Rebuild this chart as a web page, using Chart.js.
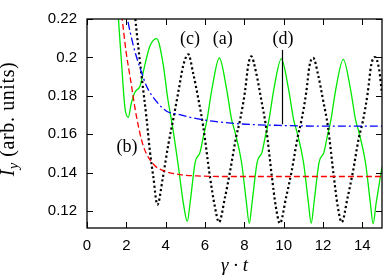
<!DOCTYPE html>
<html>
<head>
<meta charset="utf-8">
<script src="https://cdn.jsdelivr.net/npm/chart.js@4.4.0/dist/chart.umd.min.js"></script>
<style>
  html, body { margin: 0; padding: 0; background: #fff; }
  #wrap { width: 383px; height: 275px; }
</style>
</head>
<body>
<div id="wrap"><canvas id="chart"></canvas></div>
<script>
const X_TICKS = [0, 2, 4, 6, 8, 10, 12, 14];
const Y_TICKS = [0.12, 0.14, 0.16, 0.18, 0.2, 0.22];
const Y_TICK_LABELS = ['0.12', '0.14', '0.16', '0.18', '0.2', '0.22'];

// (a) green solid
const aT = [1.45, 1.59, 1.75, 1.93, 2.1, 2.25, 2.44, 2.69, 2.95, 3.2, 3.54, 3.88, 4.1, 4.35, 4.65, 4.9, 5.1,
            5.25, 5.5, 5.75, 5.9, 6.1, 6.35, 6.73, 7.1, 7.36, 7.52, 7.86, 8.1, 8.25,
            8.4, 8.65, 8.9, 9.05, 9.25, 9.5, 9.88, 10.25, 10.51, 10.67, 11.01, 11.25, 11.4,
            11.55, 11.8, 12.05, 12.2, 12.4, 12.65, 13.03, 13.4, 13.66, 13.82, 14.16, 14.4, 14.55,
            14.7, 14.95, 15.0];
const aI = [0.25, 0.222, 0.198, 0.1737, 0.1688, 0.176, 0.182, 0.185, 0.1964, 0.206, 0.2098, 0.196, 0.179, 0.164, 0.143, 0.124, 0.1146,
            0.125, 0.1454, 0.1507, 0.158, 0.1673, 0.1834, 0.1997, 0.1834, 0.1673, 0.1614, 0.1453, 0.125, 0.1136,
            0.125, 0.1454, 0.1507, 0.158, 0.1673, 0.1834, 0.1992, 0.1834, 0.1673, 0.1614, 0.1453, 0.125, 0.1136,
            0.125, 0.1454, 0.1507, 0.158, 0.1673, 0.1834, 0.199, 0.1834, 0.1673, 0.1614, 0.1453, 0.125, 0.1134,
            0.124, 0.14, 0.143];

// (b) red dashed
const bT = [1.55, 1.76, 2.0, 2.19, 2.52, 2.86, 3.37, 4.05, 4.73, 5.6, 7.0, 10.0, 15.0];
const bI = [0.236, 0.222, 0.202, 0.19, 0.169, 0.154, 0.1445, 0.1405, 0.139, 0.1383, 0.138, 0.138, 0.138];

// (c) black dotted
const cT = [2.25, 2.44, 2.78, 3.03, 3.2, 3.37, 3.58, 3.85, 4.14, 4.39, 4.64, 4.9, 5.15,
            5.4, 5.66, 5.91, 6.25, 6.5, 6.71, 7.02, 7.27, 7.57, 7.78, 8.03, 8.2, 8.35,
            8.6, 8.85, 9.1, 9.4, 9.6, 9.81, 10.12, 10.4, 10.7, 10.9, 11.15, 11.32, 11.5,
            11.75, 12.0, 12.25, 12.55, 12.75, 12.95, 13.25, 13.52, 13.82, 14.03, 14.28, 14.45, 14.64,
            14.85, 15.0];
const cI = [0.245, 0.222, 0.19, 0.168, 0.151, 0.138, 0.1233, 0.137, 0.155, 0.168, 0.1818, 0.196, 0.2016,
            0.1917, 0.1785, 0.164, 0.138, 0.1224, 0.1142, 0.1273, 0.1404, 0.158, 0.1673, 0.182, 0.196, 0.2005,
            0.192, 0.1785, 0.164, 0.138, 0.1224, 0.1136, 0.127, 0.1404, 0.158, 0.167, 0.182, 0.196, 0.1998,
            0.191, 0.178, 0.164, 0.138, 0.1224, 0.1142, 0.127, 0.1404, 0.158, 0.167, 0.182, 0.196, 0.2002,
            0.194, 0.181];

// (d) blue dash-dot
const dT = [1.85, 2.02, 2.36, 2.69, 3.03, 3.54, 4.05, 4.73, 5.24, 6.4, 7.8, 9.8, 12.3, 15.0];
const dI = [0.235, 0.2224, 0.206, 0.1948, 0.185, 0.177, 0.172, 0.1702, 0.1688, 0.1668, 0.1654, 0.1646, 0.1642, 0.1642];

// marker line for (d)
const markT = [9.93, 9.93];
const markI = [0.2039, 0.1652];

// curve labels
const LABELS = ['(a)', '(b)', '(c)', '(d)'];
const labelT = [6.9, 2.03, 5.24, 9.96];
const labelI = [0.2095, 0.1531, 0.2095, 0.2095];

const pts = (t, v) => t.map((x, i) => ({ x: x, y: v[i] }));

const frame = {
  id: 'frame',
  afterDraw(chart) {
    const { ctx, chartArea: a, scales } = chart;
    ctx.save();
    ctx.strokeStyle = '#000';
    ctx.lineWidth = 1.3;
    ctx.strokeRect(a.left, a.top, a.right - a.left, a.bottom - a.top);
    ctx.lineWidth = 1;
    ctx.beginPath();
    X_TICKS.forEach(v => {
      const px = Math.round(scales.x.getPixelForValue(v)) + 0.5;
      ctx.moveTo(px, a.bottom); ctx.lineTo(px, a.bottom - 6);
      ctx.moveTo(px, a.top); ctx.lineTo(px, a.top + 6);
    });
    Y_TICKS.forEach(v => {
      const py = Math.round(scales.y.getPixelForValue(v)) + 0.5;
      ctx.moveTo(a.left, py); ctx.lineTo(a.left + 6, py);
      ctx.moveTo(a.right, py); ctx.lineTo(a.right - 6, py);
    });
    ctx.stroke();

    // marker line for (d), straight
    const mx = Math.round(scales.x.getPixelForValue(markT[0])) + 0.5;
    ctx.lineWidth = 1.2;
    ctx.beginPath();
    ctx.moveTo(mx, scales.y.getPixelForValue(markI[0]));
    ctx.lineTo(mx, scales.y.getPixelForValue(markI[1]));
    ctx.stroke();

    // curve labels
    ctx.fillStyle = '#000';
    ctx.font = '18px "Liberation Serif"';
    ctx.textAlign = 'center';
    ctx.textBaseline = 'middle';
    LABELS.forEach((s, i) => {
      ctx.fillText(s, scales.x.getPixelForValue(labelT[i]), scales.y.getPixelForValue(labelI[i]));
    });

    // y axis title with subscript
    ctx.translate(14, 119);
    ctx.rotate(-Math.PI / 2);
    ctx.textAlign = 'left';
    ctx.textBaseline = 'alphabetic';
    const parts = [
      ['I', 'italic 20px "Liberation Serif"', 0],
      ['y', 'italic 14px "Liberation Serif"', 4],
      [' (arb. units)', '20px "Liberation Serif"', 0]
    ];
    ctx.letterSpacing = '0.6px';
    let total = 0;
    parts.forEach(p => { ctx.font = p[1]; total += ctx.measureText(p[0]).width; });
    let x = -total / 2;
    parts.forEach(p => {
      ctx.font = p[1];
      ctx.fillText(p[0], x, p[2]);
      x += ctx.measureText(p[0]).width;
    });
    ctx.restore();
  }
};

new Chart(document.getElementById('chart'), {
  type: 'line',
  data: {
    datasets: [
      { data: pts(dT, dI), borderColor: '#0000ff', borderWidth: 1.3, borderDash: [8, 3, 2, 3] },
      { data: pts(bT, bI), borderColor: '#ff0000', borderWidth: 1.3, borderDash: [6, 3] },
      { data: pts(cT, cI), borderColor: '#000000', borderWidth: 2.2, borderDash: [2.2, 2.6] },
      { data: pts(aT, aI), borderColor: '#00e800', borderWidth: 1.3 }
    ]
  },
  options: {
    responsive: true,
    maintainAspectRatio: false,
    animation: false,
    devicePixelRatio: 1,
    layout: { padding: { top: 5, right: 1, left: 0, bottom: 0 } },
    elements: {
      point: { radius: 0 },
      line: { cubicInterpolationMode: 'monotone', fill: false }
    },
    datasets: { line: { clip: 0 } },
    plugins: { legend: { display: false }, tooltip: { enabled: false } },
    scales: {
      x: {
        type: 'linear',
        min: 0,
        max: 15,
        grid: { display: false, drawTicks: false },
        border: { display: false },
        afterBuildTicks: s => { s.ticks = X_TICKS.map(v => ({ value: v })); },
        afterFit: s => { s.height = 47; },
        ticks: { color: '#000', font: { family: 'Liberation Sans', size: 15 }, padding: 9, autoSkip: false, maxRotation: 0 },
        title: {
          display: true,
          text: 'γ · t',
          color: '#000',
          font: { family: 'Liberation Serif', size: 19, style: 'italic', lineHeight: 1 },
          padding: 0
        }
      },
      y: {
        min: 0.1112,
        max: 0.22,
        grid: { display: false, drawTicks: false },
        border: { display: false },
        afterBuildTicks: s => { s.ticks = Y_TICKS.map(v => ({ value: v })); },
        afterFit: s => { s.width = 87; },
        ticks: {
          color: '#000',
          font: { family: 'Liberation Sans', size: 15 },
          padding: 10,
          autoSkip: false,
          callback: (v, i) => Y_TICK_LABELS[i]
        }
      }
    }
  },
  plugins: [frame]
});
</script>
</body>
</html>
